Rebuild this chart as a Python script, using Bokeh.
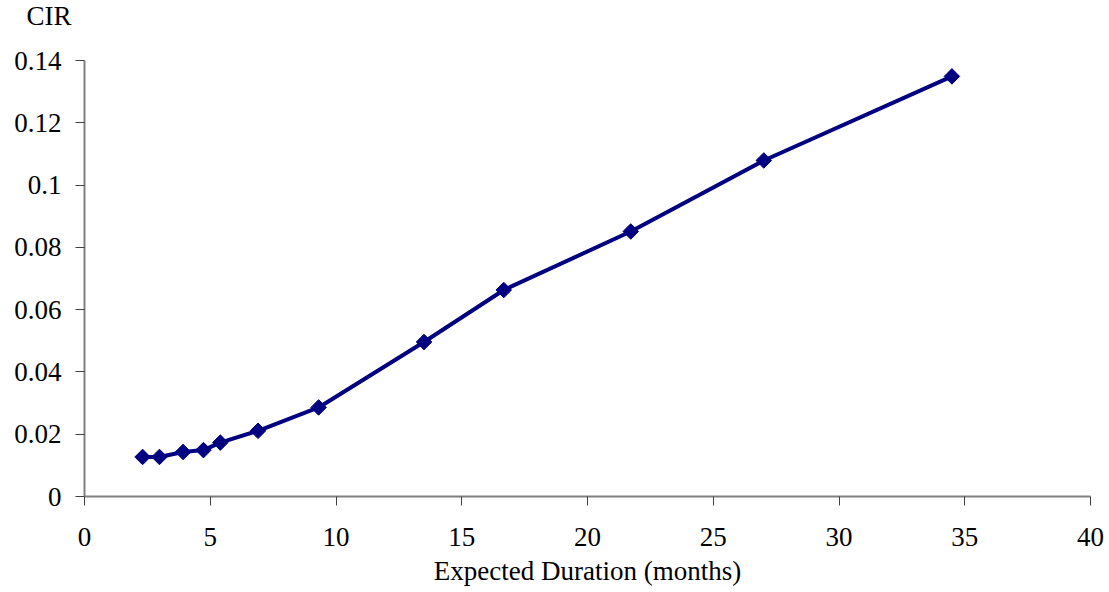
from bokeh.plotting import figure
from bokeh.models import FixedTicker, Title, Range1d
from bokeh.embed import file_html
from bokeh.resources import INLINE
import math

# Data
duration = [2.31, 2.98, 3.92, 4.73, 5.40, 6.90, 9.31, 13.50, 16.67, 21.72, 27.01, 34.49]
cir = [0.0127, 0.0127, 0.0143, 0.0149, 0.0173, 0.0211, 0.0286, 0.0496, 0.0663, 0.0851, 0.1079, 0.1349]

x_ticks = [0, 5, 10, 15, 20, 25, 30, 35, 40]
y_ticks = [0, 0.02, 0.04, 0.06, 0.08, 0.1, 0.12, 0.14]
y_tick_labels = ["0", "0.02", "0.04", "0.06", "0.08", "0.1", "0.12", "0.14"]

FONT = "Liberation Serif"
NAVY = "#000080"

p = figure(width=1109, height=592, output_backend="svg", toolbar_location=None,
           x_range=Range1d(0, 40), y_range=Range1d(0, 0.14),
           min_border_left=84, min_border_right=19, min_border_top=60, min_border_bottom=96)
p.outline_line_color = None
p.xgrid.visible = False
p.ygrid.visible = False
p.background_fill_color = "white"
p.border_fill_color = "white"

for ax in (p.xaxis[0], p.yaxis[0]):
    ax.axis_line_color = "#808080"
    ax.axis_line_width = 2
    ax.major_tick_line_color = "#404040"
    ax.major_tick_line_width = 1
    ax.major_tick_out = 9
    ax.major_tick_in = 0
    ax.minor_tick_line_color = None
    ax.major_label_text_font = FONT
    ax.major_label_text_font_size = "27px"
    ax.major_label_text_color = "black"

p.xaxis.ticker = FixedTicker(ticks=x_ticks)
p.yaxis.ticker = FixedTicker(ticks=y_ticks)
p.yaxis.major_label_overrides = {t: s for t, s in zip(y_ticks, y_tick_labels)}
p.xaxis.major_label_standoff = 22
p.yaxis.major_label_standoff = 14

p.xaxis.axis_label = "Expected Duration (months)"
p.xaxis.axis_label_text_font = FONT
p.xaxis.axis_label_text_font_size = "27px"
p.xaxis.axis_label_text_font_style = "normal"
p.xaxis.axis_label_text_color = "black"
p.xaxis.axis_label_standoff = 7

p.line(duration, cir, line_color=NAVY, line_width=4)
p.scatter(duration, cir, marker="square", size=11, angle=math.pi / 4,
          fill_color=NAVY, line_color=NAVY)

p.add_layout(Title(text="CIR\n ", text_font=FONT, text_font_size="27px",
                   text_font_style="normal", text_color="black",
                   text_line_height=0.9,
                   align="left", offset=-58, standoff=1,
                   vertical_align="top"), "above")

open("out.html", "w").write(file_html(p, INLINE))
